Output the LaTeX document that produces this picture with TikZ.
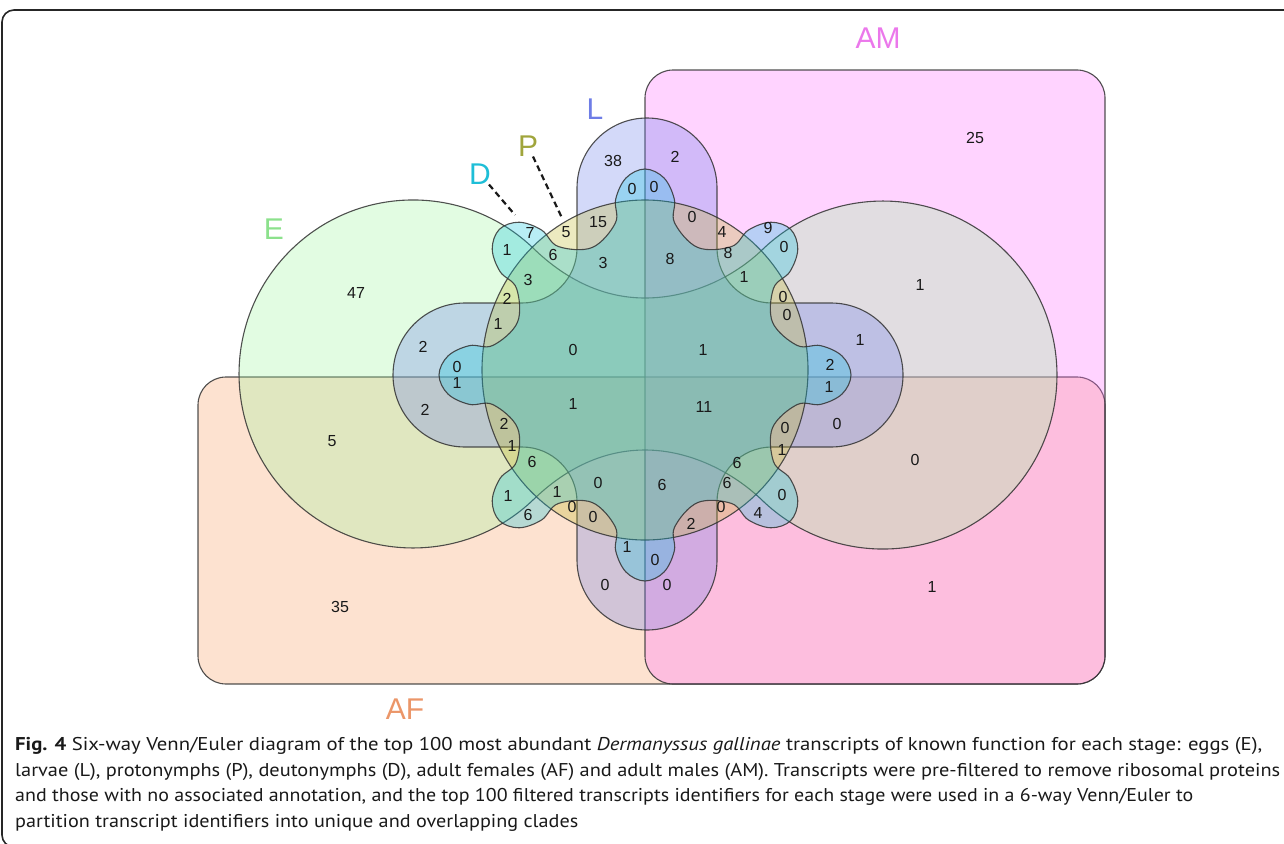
\documentclass[tikz,border=0pt]{standalone}
\usepackage{fontspec}
\setmainfont{Liberation Sans}
\newfontfamily\capfont{PT Sans}
\usepackage{graphicx}
\definecolor{cAF}{RGB}{248,158,98}
\definecolor{cAM}{RGB}{255,109,255}
\definecolor{cE}{RGB}{158,245,158}
\definecolor{cL}{RGB}{108,128,235}
\definecolor{cP}{RGB}{192,185,45}
\definecolor{cD}{RGB}{20,198,222}
\definecolor{edgec}{RGB}{50,50,50}
\definecolor{tAF}{RGB}{235,150,105}
\definecolor{tAM}{RGB}{235,120,235}
\definecolor{tE}{RGB}{140,225,140}
\definecolor{tL}{RGB}{110,125,230}
\definecolor{tP}{RGB}{160,165,60}
\definecolor{tD}{RGB}{30,190,215}
\begin{document}
\begin{tikzpicture}[x=1pt,y=1pt,yscale=-1,
  setshape/.style={fill=#1, fill opacity=0.3, draw=edgec, draw opacity=0.85, line width=1.1pt},
  num/.style={font=\fontsize{16}{16}\selectfont, text=black!90, inner sep=0pt},
  setlabel/.style={font=\fontsize{30}{30}\selectfont, text=#1, inner sep=0pt},
  capline/.style={anchor=base west, inner sep=0pt, font=\capfont\fontsize{18.5}{20}\selectfont, text=black!90},
  leader/.style={dash pattern=on 6pt off 4pt, line width=2.2pt, black!90}]
\useasboundingbox (0,0) rectangle (1284,843);
% outer frame
\draw[line width=1.6pt, black!85, rounded corners=12pt] (1330,10) -- (2,10) -- (2,847) -- (1330,847);
% AF and AM
\path[setshape=cAF, rounded corners=28pt] (198,377) rectangle (1105,684);
\path[setshape=cAM, rounded corners=28pt] (645,70) rectangle (1105,684);
% E
\path[setshape=cE] (533.9,248.8) arc[start angle=-46, end angle=-314, radius=174]
  .. controls (562.7,471.4) and (600,450) .. (645,450)
  .. controls (690,450) and (733.3,472.4) .. (762.1,500.2)
  arc[start angle=134, end angle=-134, radius=174]
  .. controls (733.3,277.6) and (690,298) .. (645,298)
  .. controls (600,298) and (562.7,276.6) .. cycle;
% L
\path[setshape=cL] (577,248) -- (577,188) arc[start angle=180, end angle=360, radius=70]
  -- (717,248) arc[start angle=180, end angle=90, radius=55]
  -- (831,303) arc[start angle=-90, end angle=90, radius=72]
  -- (772,447) arc[start angle=-90, end angle=-180, radius=55]
  -- (717,560) arc[start angle=0, end angle=180, radius=70]
  -- (577,502) arc[start angle=0, end angle=-90, radius=55]
  -- (465,447) arc[start angle=90, end angle=270, radius=72]
  -- (522,303) arc[start angle=90, end angle=0, radius=55] -- cycle;
% P
\path[setshape=cP] (645,370) ellipse[x radius=163, y radius=170];
% D
\begin{scope}[shift={(645,375)}]
\path[setshape=cD] plot[smooth cycle, tension=0.6] coordinates {
 (-11:155) (-9.5:178) (-5.5:198) (0:206) (5.5:198) (9.5:178) (11:155) (22.5:138)
 (34:155) (35.5:178) (39.5:198) (45:206) (50.5:198) (54.5:178) (56:155) (67.5:138)
 (79:155) (80.5:178) (84.5:198) (90:206) (95.5:198) (99.5:178) (101:155) (112.5:138)
 (124:155) (125.5:178) (129.5:198) (135:206) (140.5:198) (144.5:178) (146:155) (157.5:138)
 (169:155) (170.5:178) (174.5:198) (180:206) (185.5:198) (189.5:178) (191:155) (202.5:138)
 (214:155) (215.5:178) (219.5:198) (225:206) (230.5:198) (234.5:178) (236:155) (247.5:138)
 (259:155) (260.5:178) (264.5:198) (270:206) (275.5:198) (279.5:178) (281:155) (292.5:138)
 (304:155) (305.5:178) (309.5:198) (315:206) (320.5:198) (324.5:178) (326:155) (337.5:138)};
\end{scope}
% set labels
\node[setlabel=tAM] (labAM) at (878,38) {AM};
\node[setlabel=tL] (labL) at (595,109) {L};
\node[setlabel=tP] (labP) at (528,146) {P};
\node[setlabel=tD] (labD) at (480,174) {D};
\node[setlabel=tE] (labE) at (274,229) {E};
\node[setlabel=tAF] (labAF) at (405,709) {AF};
\coordinate (dEnd) at (515,215);
\coordinate (pEnd) at (562,218);
\draw[leader] (labD) -- (dEnd);
\draw[leader] (labP) -- (pEnd);
% numbers
\node[num] (n1) at (613,161) {38};
\node[num] (n2) at (675,157) {2};
\node[num] (n3) at (632,189) {0};
\node[num] (n4) at (654,187) {0};
\node[num] (n5) at (598,222) {15};
\node[num] (n6) at (566,232) {5};
\node[num] (n7) at (530,233) {7};
\node[num] (n8) at (507,250) {1};
\node[num] (n9) at (553,255) {6};
\node[num] (n10) at (603,263) {3};
\node[num] (n11) at (670,259) {8};
\node[num] (n12) at (692,217) {0};
\node[num] (n13) at (722,232) {4};
\node[num] (n14) at (728,253) {8};
\node[num] (n15) at (768,228) {9};
\node[num] (n16) at (784,247) {0};
\node[num] (n17) at (744,277) {1};
\node[num] (n18) at (528,280) {3};
\node[num] (n19) at (507,299) {2};
\node[num] (n20) at (498,324) {1};
\node[num] (n21) at (783,297) {0};
\node[num] (n22) at (787,315) {0};
\node[num] (n23) at (975,138) {25};
\node[num] (n24) at (356,293) {47};
\node[num] (n25) at (920,285) {1};
\node[num] (n26) at (423,347) {2};
\node[num] (n27) at (457,367) {0};
\node[num] (n28) at (457,383) {1};
\node[num] (n29) at (573,350) {0};
\node[num] (n30) at (703,350) {1};
\node[num] (n31) at (860,340) {1};
\node[num] (n32) at (830,365) {2};
\node[num] (n33) at (829,387) {1};
\node[num] (n34) at (425,410) {2};
\node[num] (n35) at (573,404) {1};
\node[num] (n36) at (704,407) {11};
\node[num] (n37) at (332,441) {5};
\node[num] (n38) at (504,424) {2};
\node[num] (n39) at (512,446) {1};
\node[num] (n40) at (532,462) {6};
\node[num] (n41) at (837,424) {0};
\node[num] (n42) at (785,428) {0};
\node[num] (n43) at (782,450) {1};
\node[num] (n44) at (915,460) {0};
\node[num] (n45) at (737,463) {6};
\node[num] (n46) at (598,483) {0};
\node[num] (n47) at (662,485) {6};
\node[num] (n48) at (557,492) {1};
\node[num] (n49) at (727,483) {6};
\node[num] (n50) at (508,496) {1};
\node[num] (n51) at (572,507) {0};
\node[num] (n52) at (593,517) {0};
\node[num] (n53) at (528,515) {6};
\node[num] (n54) at (721,507) {0};
\node[num] (n55) at (691,524) {2};
\node[num] (n56) at (782,495) {0};
\node[num] (n57) at (758,513) {4};
\node[num] (n58) at (627,547) {1};
\node[num] (n59) at (655,560) {0};
\node[num] (n60) at (605,585) {0};
\node[num] (n61) at (667,585) {0};
\node[num] (n62) at (340,607) {35};
\node[num] (n63) at (932,587) {1};
% caption
\node[capline] (cap1) at (15,750) {\resizebox{1247pt}{\height}{\textbf{Fig. 4} Six-way Venn/Euler diagram of the top 100 most abundant \textit{Dermanyssus gallinae} transcripts of known function for each stage: eggs (E),}};
\node[capline] (cap2) at (15,776) {\resizebox{1265pt}{\height}{larvae (L), protonymphs (P), deutonymphs (D), adult females (AF) and adult males (AM). Transcripts were pre-filtered to remove ribosomal proteins}};
\node[capline] (cap3) at (15,801) {\resizebox{1178pt}{\height}{and those with no associated annotation, and the top 100 filtered transcripts identifiers for each stage were used in a 6-way Venn/Euler to}};
\node[capline] (cap4) at (15,827) {\resizebox{563pt}{\height}{partition transcript identifiers into unique and overlapping clades}};
\end{tikzpicture}
\end{document}
